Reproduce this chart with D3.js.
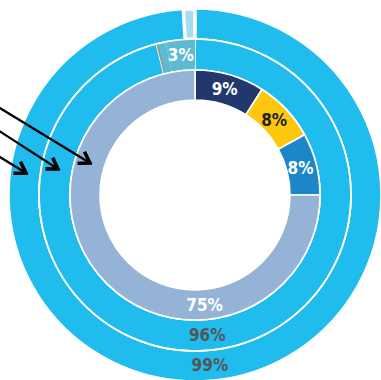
<!DOCTYPE html>
<html>
<head>
<meta charset="utf-8">
<script src="https://cdn.jsdelivr.net/npm/d3@7/dist/d3.min.js"></script>
<style>
  html, body { margin: 0; padding: 0; background: #fff; }
  svg { display: block; }
  text { font-family: "Liberation Sans Narrow", "DejaVu Sans Condensed", "Roboto", sans-serif; font-weight: bold; }
</style>
</head>
<body>
<svg id="chart" width="381" height="380"></svg>
<script>
// Ring data (outer to inner), values in percent
const outerLabels = ["99%", ""];
const outerValues = [99, 1];
const outerColors = ["#20bcee", "#a6dcf2"];

const middleLabels = ["96%", "", "3%"];
const middleValues = [96, 1, 3];
const middleColors = ["#20bcee", "#5cbad3", "#5cbad3"];

const innerLabels = ["9%", "8%", "8%", "75%"];
const innerValues = [9, 8, 8, 75];
const innerColors = ["#22376b", "#fdc70e", "#1b87c9", "#94b3d6"];
const innerTextColors = ["#fff", "#222", "#fff", "#fff"];

const svg = d3.select("#chart");
const cx = 195, cy = 195;
const g = svg.append("g").attr("transform", `translate(${cx},${cy})`);

const pie = d3.pie().sort(null).value(d => d);

const rings = [
  { values: outerValues, labels: outerLabels, colors: outerColors, r0: 156, r1: 186,
    textColors: ["#555", "#555"], strokes: [1.6, 3.5] },
  { values: middleValues, labels: middleLabels, colors: middleColors, r0: 125, r1: 156,
    textColors: ["#555", "#fff", "#fff"], strokes: [1.6, 0, 0] },
  { values: innerValues, labels: innerLabels, colors: innerColors, r0: 95, r1: 125,
    textColors: innerTextColors, strokes: [1.6, 1.6, 1.6, 1.6] }
];

// Labels for the large slices sit near the bottom of each ring
const bottomAngle = 175 * Math.PI / 180;

rings.forEach((ring, ri) => {
  const arc = d3.arc().innerRadius(ring.r0).outerRadius(ring.r1);
  const arcs = pie(ring.values);

  g.selectAll(null)
    .data(arcs)
    .enter().append("path")
    .attr("d", arc)
    .attr("fill", (d, i) => ring.colors[i])
    .attr("stroke", "#fff")
    .attr("stroke-width", (d, i) => ring.strokes[i]);

  // white separators along the ring edges (for slices drawn without a stroke)
  if (ri === 1) {
    g.append("circle").attr("r", ring.r1).attr("fill", "none")
      .attr("stroke", "#fff").attr("stroke-width", 1.6);
    g.append("circle").attr("r", ring.r0).attr("fill", "none")
      .attr("stroke", "#fff").attr("stroke-width", 1.6);
    // thin accent on the leading edge of the 1% slice
    const a = arcs[1].startAngle + 0.006;
    g.append("line")
      .attr("x1", (ring.r0 + 1) * Math.sin(a)).attr("y1", -(ring.r0 + 1) * Math.cos(a))
      .attr("x2", (ring.r1 - 1) * Math.sin(a)).attr("y2", -(ring.r1 - 1) * Math.cos(a))
      .attr("stroke", "#c9845a").attr("stroke-width", 1);
  }

  const rm = (ring.r0 + ring.r1) / 2;
  const pos = d => {
    const big = d.value >= 50;
    const a = big ? bottomAngle : (d.startAngle + d.endAngle) / 2;
    return [rm * Math.sin(a) + (big ? 0 : -1), -rm * Math.cos(a)];
  };
  g.selectAll(null)
    .data(arcs)
    .enter().append("text")
    .filter((d, i) => ring.labels[i] !== "")
    .attr("x", d => pos(d)[0])
    .attr("y", d => pos(d)[1])
    .attr("text-anchor", "middle")
    .attr("dominant-baseline", "central")
    .attr("font-size", 17)
    .attr("fill", d => ring.textColors[d.index])
    .text(d => ring.labels[d.index]);
});

// Pointer arrows from the left edge to each ring
const arrows = [
  { x1: -10, y1: 102, x2: 90, y2: 163 },
  { x1: -10, y1: 125, x2: 58, y2: 169 },
  { x1: -10, y1: 151, x2: 26, y2: 173 }
];

svg.append("defs").append("marker")
  .attr("id", "head")
  .attr("viewBox", "0 0 10 10")
  .attr("refX", 8.5).attr("refY", 5)
  .attr("markerWidth", 8).attr("markerHeight", 8)
  .attr("markerUnits", "strokeWidth")
  .attr("orient", "auto")
  .append("path")
  .attr("d", "M2.5,1.2 L8.5,5 L2.5,8.8")
  .attr("fill", "none")
  .attr("stroke", "#000")
  .attr("stroke-width", 2);

svg.selectAll(null)
  .data(arrows)
  .enter().append("line")
  .attr("x1", d => d.x1).attr("y1", d => d.y1)
  .attr("x2", d => d.x2).attr("y2", d => d.y2)
  .attr("stroke", "#000")
  .attr("stroke-width", 2.2)
  .attr("marker-end", "url(#head)");
</script>
</body>
</html>
